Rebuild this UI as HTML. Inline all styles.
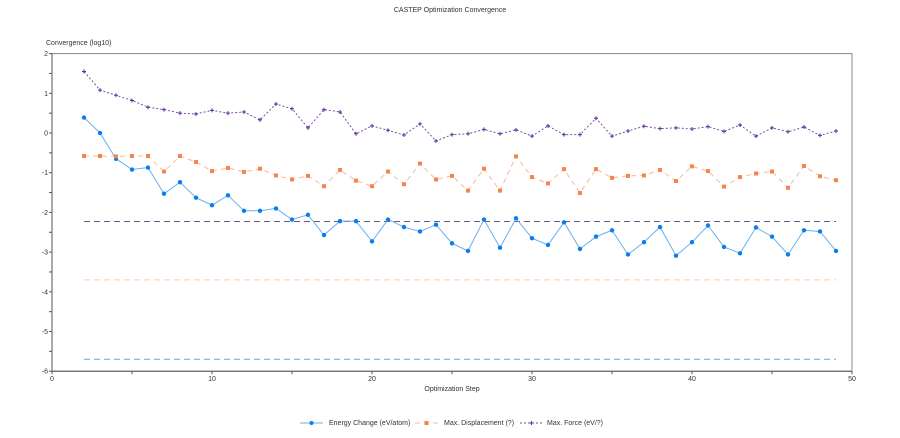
<!DOCTYPE html>
<html><head><meta charset="utf-8"><style>
body{margin:0;background:#fff;width:900px;height:433px;overflow:hidden;font-family:"Liberation Sans",sans-serif}
svg text{font-family:"Liberation Sans",sans-serif;font-size:7px;fill:#333}
</style></head><body>
<svg id="chart" width="900" height="433">
<text x="450" y="12" text-anchor="middle">CASTEP Optimization Convergence</text>
<text x="46" y="45">Convergence (log10)</text>
<text x="452" y="391" text-anchor="middle">Optimization Step</text>
<g id="axes"></g><g id="marks"></g>
<g>
<g><line x1="300" y1="423" x2="323" y2="423" stroke="#67b0f5" stroke-width="1"/><circle cx="311.5" cy="423" r="2" fill="#0a7cf0"/><text x="329" y="425">Energy Change (eV/atom)</text></g>
<g><line x1="415" y1="423" x2="438" y2="423" stroke="#fbb893" stroke-dasharray="5,4"/><rect x="424.5" y="421" width="4" height="4" fill="#f7844a"/><text x="444" y="425">Max. Displacement (?)</text></g>
<g><line x1="520" y1="423" x2="543" y2="423" stroke="#7a4cb0" stroke-dasharray="2,2"/><path d="M529.5 423h4M531.5 421v4" stroke="#5a2c98"/><text x="547" y="425">Max. Force (eV/?)</text></g>
</g>
</svg>
<script>
const steps=[2,3,4,5,6,7,8,9,10,11,12,13,14,15,16,17,18,19,20,21,22,23,24,25,26,27,28,29,30,31,32,33,34,35,36,37,38,39,40,41,42,43,44,45,46,47,48,49];
const energy=[0.39,0,-0.65,-0.92,-0.87,-1.53,-1.24,-1.63,-1.82,-1.57,-1.96,-1.96,-1.9,-2.18,-2.06,-2.57,-2.22,-2.22,-2.73,-2.18,-2.37,-2.48,-2.31,-2.78,-2.97,-2.18,-2.89,-2.15,-2.65,-2.82,-2.25,-2.92,-2.61,-2.45,-3.06,-2.75,-2.37,-3.09,-2.75,-2.33,-2.87,-3.03,-2.38,-2.61,-3.06,-2.45,-2.48,-2.97];
const displacement=[-0.58,-0.58,-0.59,-0.58,-0.58,-0.97,-0.58,-0.73,-0.96,-0.88,-0.98,-0.9,-1.07,-1.17,-1.08,-1.34,-0.93,-1.2,-1.34,-0.97,-1.29,-0.77,-1.17,-1.08,-1.45,-0.9,-1.45,-0.59,-1.11,-1.27,-0.91,-1.51,-0.91,-1.13,-1.08,-1.07,-0.93,-1.21,-0.84,-0.96,-1.35,-1.11,-1.02,-0.97,-1.38,-0.83,-1.09,-1.19];
const force=[1.55,1.08,0.95,0.82,0.65,0.59,0.5,0.48,0.57,0.5,0.53,0.33,0.73,0.61,0.13,0.59,0.53,-0.02,0.18,0.07,-0.05,0.23,-0.2,-0.04,-0.02,0.09,-0.02,0.08,-0.08,0.18,-0.04,-0.04,0.37,-0.08,0.05,0.17,0.11,0.13,0.1,0.16,0.04,0.2,-0.08,0.13,0.03,0.15,-0.06,0.05];
const thresholds=[-2.23,-3.70,-5.70];
const xTicks=[0,10,20,30,40,50];
const yTicks=[2,1,0,-1,-2,-3,-4,-5,-6];
const X=v=>52+v*16, Y=v=>133-v*39.7;
const NS="http://www.w3.org/2000/svg";
function mk(p,t,a){const e=document.createElementNS(NS,t);for(const k in a)e.setAttribute(k,a[k]);p.appendChild(e);return e;}
const ax=document.getElementById('axes'),mg=document.getElementById('marks');
const frame=mk(ax,'rect',{x:X(0),y:Y(2),width:X(50)-X(0),height:Y(-6)-Y(2),fill:'none',stroke:'#888','stroke-width':1});


const xl=mk(ax,'line',{x1:X(0),y1:Y(-6),x2:X(50),y2:Y(-6),stroke:'#555'});


const yl=mk(ax,'line',{x1:X(0),y1:Y(2),x2:X(0),y2:Y(-6),stroke:'#555'});


for(let v=0;v<=50;v+=5){mk(ax,'line',{x1:X(v),y1:Y(-6),x2:X(v),y2:Y(-6)+3,stroke:'#555'});}
xTicks.forEach(v=>{const t=mk(ax,'text',{x:X(v),y:Y(-6)+10,'text-anchor':'middle'});t.textContent=v;

});
for(let v=2;v>=-6;v-=0.5){mk(ax,'line',{x1:X(0)-3,y1:Y(v),x2:X(0),y2:Y(v),stroke:'#555'});}
yTicks.forEach(v=>{const t=mk(ax,'text',{x:X(0)-4,y:Y(v)+2.5,'text-anchor':'end'});t.textContent=v;

});
const thColors=['#6a5a8a','#fcc9a8','#5ea6ef'];
thresholds.forEach((v,i)=>{const l=mk(mg,'line',{x1:X(steps[0]),y1:Y(v),x2:X(steps[steps.length-1]),y2:Y(v),stroke:thColors[i],'stroke-dasharray':'6,4'});

});
function pts(a){return a.map((v,i)=>X(steps[i])+','+Y(v)).join(' ');}
const pe=mk(mg,'polyline',{points:pts(energy),fill:'none',stroke:'#67b0f5','stroke-width':1});


const pd=mk(mg,'polyline',{points:pts(displacement),fill:'none',stroke:'#fbb893','stroke-width':1,'stroke-dasharray':'5,4'});


const pf=mk(mg,'polyline',{points:pts(force),fill:'none',stroke:'#7a4cb0','stroke-width':1,'stroke-dasharray':'2,2'});


steps.forEach((s,i)=>{
const c=mk(mg,'circle',{cx:X(s),cy:Y(energy[i]),r:2.2,fill:'#0a7cf0'});


const r=mk(mg,'rect',{x:X(s)-2,y:Y(displacement[i])-2,width:4,height:4,fill:'#f7844a'});


const p=mk(mg,'path',{d:`M${X(s)-2} ${Y(force[i])}h4M${X(s)} ${Y(force[i])-2}v4`,stroke:'#5a2c98','stroke-width':1});


});
</script>
</body></html>
